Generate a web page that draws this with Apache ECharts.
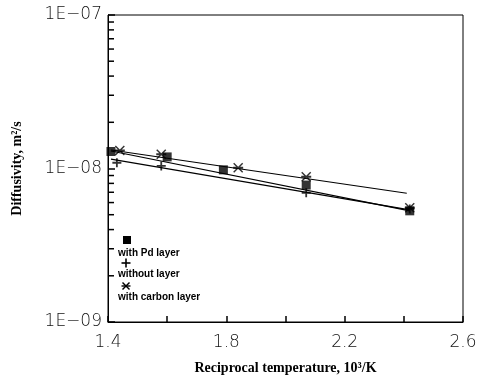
<!DOCTYPE html>
<html>
<head>
<meta charset="utf-8">
<script src="https://cdn.jsdelivr.net/npm/echarts@6/dist/echarts.min.js"></script>
<style>html,body{margin:0;padding:0;background:#fff}#c{width:483px;height:376px}</style>
</head>
<body>
<div id="c"></div>
<script>
// Data
const pdX = [1.41, 1.60, 1.79, 2.07, 2.42];
const pdY = [1.29e-8, 1.19e-8, 9.8e-9, 7.8e-9, 5.3e-9];
const noX = [1.43, 1.58, 2.07, 2.42];
const noY = [1.09e-8, 1.04e-8, 6.95e-9, 5.45e-9];
const cX = [1.44, 1.58, 1.84, 2.07, 2.42];
const cY = [1.31e-8, 1.24e-8, 1.01e-8, 8.85e-9, 5.55e-9];
// fitted lines
const pdFitX = [1.41, 2.42];
const pdFitY = [1.30e-8, 5.3e-9];
const noFitX = [1.41, 2.42];
const noFitY = [1.15e-8, 5.37e-9];
const cFitX = [1.41, 2.41];
const cFitY = [1.32e-8, 6.9e-9];
// axis ticks
const xTickLabels = ['1.4', '1.8', '2.2', '2.6'];
const yTickLabels = ['1E\u221209', '1E\u221208', '1E\u221207'];
const yMinorTicks = [2e-9,3e-9,4e-9,5e-9,6e-9,7e-9,8e-9,9e-9,2e-8,3e-8,4e-8,5e-8,6e-8,7e-8,8e-8,9e-8];
const legendNames = ['with Pd layer', 'without layer', 'with carbon layer'];

const zip = (a, b) => a.map((v, i) => [v, b[i]]);

const plusPath = 'path://M4,0h2v10h-2z M0,4h10v2h-10z';
const starPath = 'path://M1,0L5,4L9,0L10,1L6,5L10,9L9,10L5,6L1,10L0,9L4,5L0,1Z M0,4h10v2h-10z';

const chart = echarts.init(document.getElementById('c'));
const labelFont = {fontFamily: 'DejaVu Sans', fontSize: 17, color: '#111', fontWeight: 'lighter'};
const titleFont = {fontFamily: 'Liberation Serif', fontSize: 14, fontWeight: 'bold', color: '#000'};
const legFont = 'bold 10px "Liberation Sans"';

function plusIcon(cx, cy) {
  return [
    {type: 'line', shape: {x1: cx - 4.5, y1: cy, x2: cx + 4.5, y2: cy}, style: {stroke: '#000', lineWidth: 1.6}},
    {type: 'line', shape: {x1: cx, y1: cy - 4.5, x2: cx, y2: cy + 4.5}, style: {stroke: '#000', lineWidth: 1.6}}
  ];
}
function starIcon(cx, cy) {
  return [
    {type: 'line', shape: {x1: cx - 4.5, y1: cy, x2: cx + 4.5, y2: cy}, style: {stroke: '#000', lineWidth: 1.4}},
    {type: 'line', shape: {x1: cx - 3.5, y1: cy - 3.5, x2: cx + 3.5, y2: cy + 3.5}, style: {stroke: '#000', lineWidth: 1.4}},
    {type: 'line', shape: {x1: cx - 3.5, y1: cy + 3.5, x2: cx + 3.5, y2: cy - 3.5}, style: {stroke: '#000', lineWidth: 1.4}}
  ];
}

chart.setOption({
  animation: false,
  backgroundColor: '#fff',
  grid: {left: 108, right: 20, top: 15, bottom: 54, show: true, borderColor: '#000', borderWidth: 1,
         containLabel: false, outerBoundsMode: 'none'},
  xAxis: {
    type: 'value', min: 1.4, max: 2.6, interval: 0.4,
    axisLine: {show: true, lineStyle: {color: '#000', width: 1}},
    axisTick: {show: true, inside: true, length: 6, lineStyle: {color: '#000', width: 1.5}},
    minorTick: {show: true, splitNumber: 2, length: 6, lineStyle: {color: '#000', width: 1.5}},
    splitLine: {show: false},
    axisLabel: Object.assign({margin: 12, formatter: v => {
      const s = v.toFixed(1); return xTickLabels.includes(s) ? s : ''; }}, labelFont),
    name: 'Reciprocal temperature, 10\u00b3/K', nameLocation: 'middle', nameGap: 39,
    nameTextStyle: titleFont
  },
  yAxis: {
    type: 'log', min: 1e-9, max: 1e-7, logBase: 10,
    axisLine: {show: true, lineStyle: {color: '#000', width: 1}},
    axisTick: {show: true, inside: true, length: 7, lineStyle: {color: '#000', width: 1.5}},
    splitLine: {show: false},
    axisLabel: Object.assign({margin: 6, formatter: v => {
      const e = Math.round(Math.log10(v)); return yTickLabels[e + 9] || ''; }}, labelFont),
    name: 'Diffusivity, m\u00b2/s', nameLocation: 'middle', nameGap: 84, nameRotate: 90,
    nameTextStyle: titleFont
  },
  graphic: [
    {type: 'rect', shape: {x: 123, y: 236, width: 8, height: 8}, style: {fill: '#000'}},
    {type: 'text', x: 118, y: 253, style: {text: legendNames[0], font: legFont, fill: '#000', verticalAlign: 'middle'}},
    ...plusIcon(126, 263),
    {type: 'text', x: 118, y: 274, style: {text: legendNames[1], font: legFont, fill: '#000', verticalAlign: 'middle'}},
    ...starIcon(126, 286),
    {type: 'text', x: 118, y: 297, style: {text: legendNames[2], font: legFont, fill: '#000', verticalAlign: 'middle'}}
  ],
  series: [
    {type: 'line', data: zip(pdFitX, pdFitY), symbol: 'none', lineStyle: {color: '#000', width: 1.2}},
    {type: 'line', data: zip(noFitX, noFitY), symbol: 'none', lineStyle: {color: '#000', width: 1.2}},
    {type: 'line', data: zip(cFitX, cFitY), symbol: 'none', lineStyle: {color: '#000', width: 1.2}},
    {type: 'scatter', name: legendNames[0], data: zip(pdX, pdY), symbol: 'rect', symbolSize: 9, itemStyle: {color: '#000'}},
    {type: 'scatter', name: legendNames[1], data: zip(noX, noY), symbol: plusPath, symbolSize: 9, itemStyle: {color: '#000'}},
    {type: 'scatter', name: legendNames[2], data: zip(cX, cY), symbol: starPath, symbolSize: 10, itemStyle: {color: '#000'}},
    {type: 'custom', data: yMinorTicks.map(v => [1.4, v]), silent: true, clip: false, z: 10,
      renderItem: (params, api) => {
        const p = api.coord([api.value(0), api.value(1)]);
        return {type: 'line', shape: {x1: p[0], y1: p[1], x2: p[0] + 6, y2: p[1]}, style: {stroke: '#000', lineWidth: 1.5}};
      }}
  ]
});
</script>
</body>
</html>
